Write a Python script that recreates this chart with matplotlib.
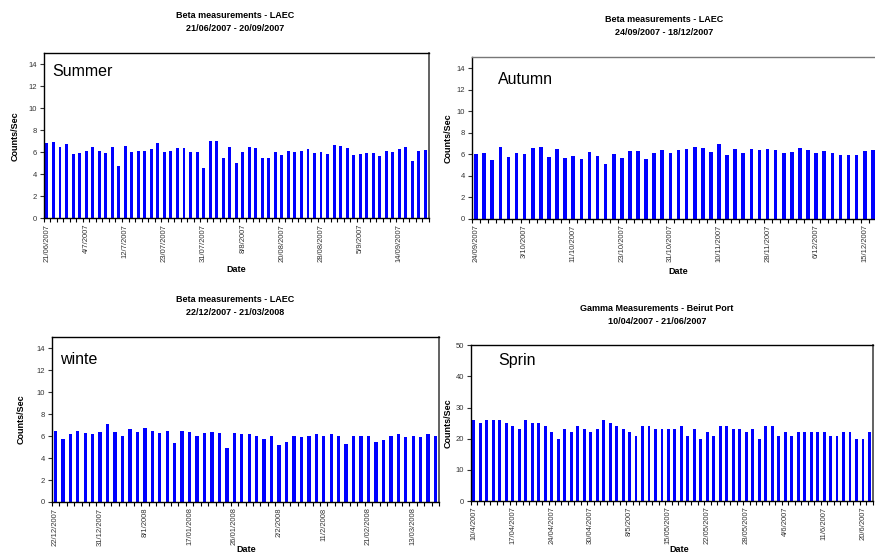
import matplotlib
matplotlib.use("Agg")
import matplotlib.pyplot as plt
from matplotlib.ticker import FixedLocator, NullFormatter

plt.rcParams['font.family'] = ['Liberation Sans', 'DejaVu Sans']

W, H = 875, 556

# ---- data ----
summer_vals = [6.85, 6.95, 6.5, 6.75, 5.85, 5.95, 6.1, 6.5, 6.1, 5.95,
               6.5, 4.75, 6.6, 6.05, 6.1, 6.1, 6.3, 6.85, 6.05, 6.1,
               6.4, 6.4, 6.05, 6.05, 4.6, 7.05, 7.05, 5.5, 6.5, 5.05,
               6.05, 6.5, 6.4, 5.5, 5.5, 6.05, 5.75, 6.1, 6.05, 6.1,
               6.3, 5.95, 6.05, 5.85, 6.65, 6.6, 6.4, 5.75, 5.85, 5.95,
               5.95, 5.65, 6.1, 6.05, 6.3, 6.5, 5.2, 6.1, 6.2]
summer_labels = ['21/06/2007', '4/7/2007', '12/7/2007', '23/07/2007', '31/07/2007',
                 '8/8/2007', '20/08/2007', '28/08/2007', '5/9/2007', '14/09/2007']

autumn_vals = [6.0, 6.1, 5.5, 6.65, 5.7, 6.1, 6.0, 6.55, 6.65, 5.7,
               6.45, 5.6, 5.8, 5.55, 6.2, 5.8, 5.05, 6.0, 5.6, 6.25,
               6.25, 5.55, 6.1, 6.35, 6.1, 6.35, 6.45, 6.65, 6.55, 6.2,
               6.9, 5.9, 6.45, 6.1, 6.45, 6.35, 6.45, 6.35, 6.1, 6.2,
               6.55, 6.35, 6.1, 6.25, 6.1, 5.9, 5.9, 5.9, 6.25, 6.35, 6.2]
autumn_labels = ['24/09/2007', '3/10/2007', '11/10/2007', '23/10/2007', '31/10/2007',
                 '10/11/2007', '28/11/2007', '6/12/2007', '15/12/2007']

winter_vals = [6.5, 5.7, 6.2, 6.45, 6.25, 6.2, 6.35, 7.1, 6.35, 6.0,
               6.65, 6.35, 6.7, 6.5, 6.25, 6.5, 5.35, 6.5, 6.35, 6.0,
               6.25, 6.35, 6.25, 4.9, 6.25, 6.2, 6.2, 6.0, 5.7, 6.0,
               5.2, 5.45, 6.0, 5.9, 6.0, 6.2, 6.0, 6.2, 6.0, 5.25,
               6.0, 6.0, 6.0, 5.45, 5.65, 6.0, 6.2, 5.9, 6.0, 5.9,
               6.2, 6.0]
winter_labels = ['22/12/2007', '31/12/2007', '8/1/2008', '17/01/2008', '26/01/2008',
                 '2/2/2008', '11/2/2008', '21/02/2008', '13/03/2008']

spring_vals = [26, 25, 26, 26, 26, 25, 24, 23, 26, 25,
               25, 24, 22, 20, 23, 22, 24, 23, 22, 23,
               26, 25, 24, 23, 22, 21, 24, 24, 23, 23,
               23, 23, 24, 21, 23, 20, 22, 21, 24, 24,
               23, 23, 22, 23, 20, 24, 24, 21, 22, 21,
               22, 22, 22, 22, 22, 21, 21, 22, 22, 20,
               20, 22]
spring_labels = ['10/4/2007', '17/04/2007', '24/04/2007', '30/04/2007', '8/5/2007',
                 '15/05/2007', '22/05/2007', '28/05/2007', '4/6/2007', '11/6/2007',
                 '20/6/2007']

fig = plt.figure(figsize=(W / 100, H / 100), dpi=100)
fig.patch.set_facecolor('white')


def px_axes(left, top, right, bottom):
    return fig.add_axes([left / W, 1 - bottom / H, (right - left) / W, (bottom - top) / H])


def ftext(x, y, s, **kw):
    fig.text(x / W, 1 - y / H, s, **kw)


def panel(box, vals, labels, ymax, ystep, title, title_xy, name, name_xy,
          ylab_x, date_xy, top_color='black'):
    ax = px_axes(*box)
    n = len(vals)
    ax.bar(range(n), vals, width=0.45, color='#0000ff', edgecolor='none')
    ax.set_xlim(-0.5, n - 0.5)
    ax.set_ylim(0, ymax)
    ax.set_yticks(range(0, ymax + 1, ystep))
    ax.tick_params(axis='y', labelsize=5.5, length=3, width=0.8, pad=2, colors='#333333')
    ax.set_xticks(range(0, n, 6))
    ax.set_xticklabels(labels, rotation=90, fontsize=5.5, color='#333333')
    ax.tick_params(axis='x', length=0, pad=4)
    ax.xaxis.set_minor_locator(FixedLocator([i - 0.5 for i in range(n + 1)]))
    ax.xaxis.set_minor_formatter(NullFormatter())
    ax.tick_params(axis='x', which='minor', length=3, width=0.8)
    for s in ax.spines.values():
        s.set_linewidth(1.0)
        s.set_color('black')
    ax.spines['top'].set_color(top_color)
    ax.spines['right'].set_color('#555555')
    ax.spines['right'].set_linewidth(1.3)
    ftext(*title_xy, title, ha='center', va='center', fontsize=6.5,
          fontweight='bold', linespacing=1.45)
    ftext(*name_xy, name, ha='left', va='center', fontsize=11.5)
    ftext(ylab_x, (box[1] + box[3]) / 2, 'Counts/Sec', rotation=90, ha='center',
          va='center', fontsize=6.5, fontweight='bold')
    ftext(*date_xy, 'Date', ha='center', va='center', fontsize=6.5, fontweight='bold')
    return ax


panel((43.7, 53.3, 428.7, 218.3), summer_vals, summer_labels, 15, 2,
      'Beta measurements - LAEC\n21/06/2007 - 20/09/2007', (235, 22),
      'Summer', (52, 72), 15, (236, 270))

panel((472, 57.3, 885, 218.7), autumn_vals, autumn_labels, 15, 2,
      'Beta measurements - LAEC\n24/09/2007 - 18/12/2007', (664, 26),
      'Autumn', (498, 80), 448, (678, 271), top_color='#777777')

panel((51.7, 337.3, 439.3, 502), winter_vals, winter_labels, 15, 2,
      'Beta measurements - LAEC\n22/12/2007 - 21/03/2008', (235, 306),
      'winte', (60, 360), 21, (246, 550))

panel((470.7, 345.3, 872.7, 501), spring_vals, spring_labels, 50, 10,
      'Gamma Measurements - Beirut Port\n10/04/2007 - 21/06/2007', (657, 315),
      'Sprin', (498, 360), 448, (679, 550))

fig.savefig('out.png', dpi=100)
